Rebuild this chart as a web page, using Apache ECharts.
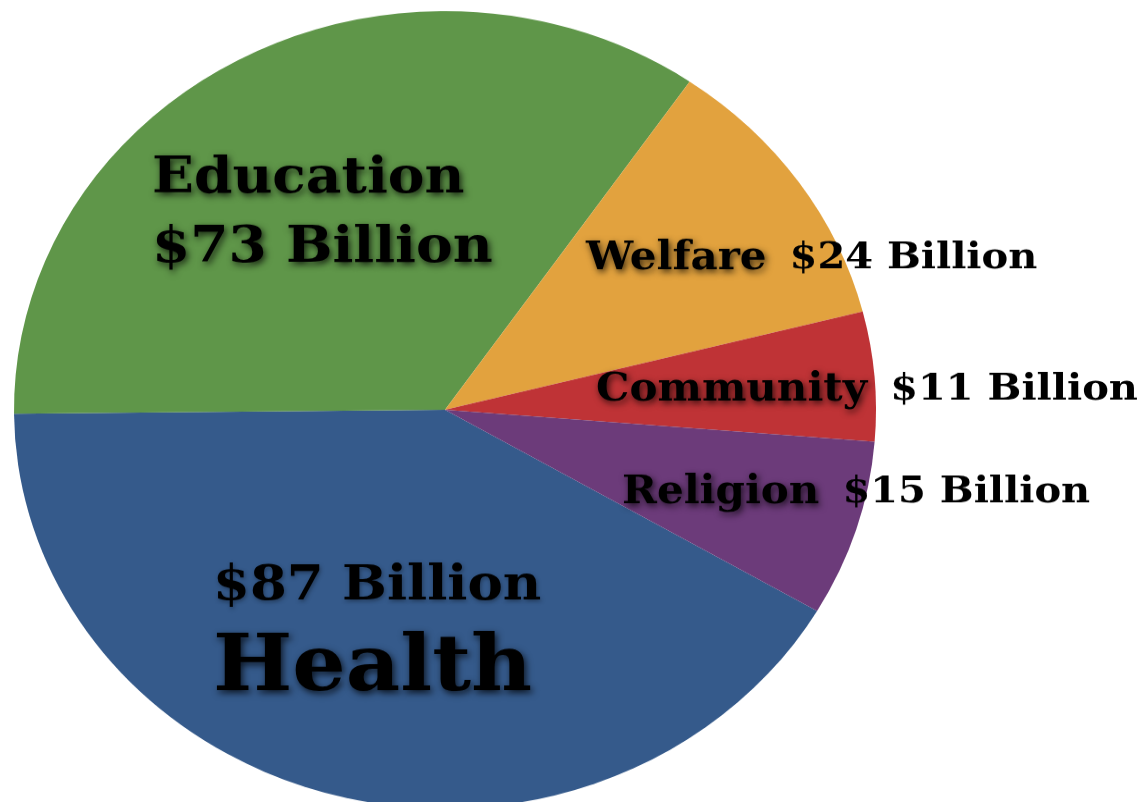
<!DOCTYPE html>
<html><head><meta charset="utf-8">
<script src="https://cdn.jsdelivr.net/npm/echarts@6/dist/echarts.min.js"></script>
<style>html,body{margin:0;padding:0;background:#fff;overflow:hidden}
#wrap{width:1139px;height:802px;overflow:hidden;position:relative}
#c{width:1139px;height:867px;transform:scaleY(0.925);transform-origin:0 0}
</style></head><body><div id="wrap"><div id="c"></div></div>
<script>
const categories = ['Health', 'Education', 'Welfare', 'Community', 'Religion'];
const values = [87, 73, 24, 11, 15];
const valueLabels = ['$87 Billion', '$73 Billion', '$24 Billion', '$11 Billion', '$15 Billion'];
const colors = ['#355a8b', '#5f9649', '#e2a23e', '#bf3336', '#6c3b7a'];

const FONT = 'DejaVu Serif';
const shadow = {textShadowColor: 'rgba(0,0,0,0.75)', textShadowBlur: 7, textShadowOffsetX: 2, textShadowOffsetY: 3};
const labelPos = {
  0: {x: 213, y: 680, align: 'left'},
  1: {x: 152, y: 231, align: 'left'},
  2: {x: 586, y: 280, align: 'left'},
  3: {x: 596, y: 422, align: 'left'},
  4: {x: 622, y: 533, align: 'left'}
};

const chart = echarts.init(document.getElementById('c'), null, {renderer: 'canvas'});
chart.setOption({
  animation: false,
  series: [{
    type: 'pie',
    center: [445, 443],
    radius: 431,
    startAngle: -30.3,
    clockwise: true,
    avoidLabelOverlap: false,
    itemStyle: {borderWidth: 0},
    data: categories.map((n, i) => ({name: n, value: values[i], itemStyle: {color: colors[i]}})),
    label: {
      show: true,
      position: 'inside',
      fontFamily: FONT,
      fontWeight: 'bold',
      color: '#000',
      formatter: p => {
        const i = p.dataIndex;
        if (i === 0) return '{v87|' + valueLabels[0] + '}\n{big|' + categories[0] + '}';
        if (i === 1) return '{edu|' + categories[1] + '}\n{edu|' + valueLabels[1] + '}';
        return '{n|' + categories[i] + '}{g|}{v|' + valueLabels[i] + '}';
      },
      rich: {
        v87: {fontFamily: FONT, fontWeight: 'bold', fontSize: 53, color: '#000', lineHeight: 88, textShadowColor: 'rgba(0,0,0,0.35)', textShadowBlur: 4, textShadowOffsetX: 1, textShadowOffsetY: 2},
        big: Object.assign({fontFamily: FONT, fontWeight: 'bold', fontSize: 84, color: '#000', lineHeight: 92}, shadow),
        edu: Object.assign({fontFamily: FONT, fontWeight: 'bold', fontSize: 55, color: '#000', lineHeight: 75}, shadow),
        n: Object.assign({fontFamily: FONT, fontWeight: 'bold', fontSize: 42, color: '#000'}, shadow),
        g: {width: 23},
        v: {fontFamily: FONT, fontWeight: 'bold', fontSize: 40, color: '#000'}
      }
    },
    labelLine: {show: false},
    labelLayout: p => {
      const l = labelPos[p.dataIndex];
      return {x: l.x, y: l.y, align: l.align, verticalAlign: 'middle'};
    }
  }]
});
</script></body></html>
